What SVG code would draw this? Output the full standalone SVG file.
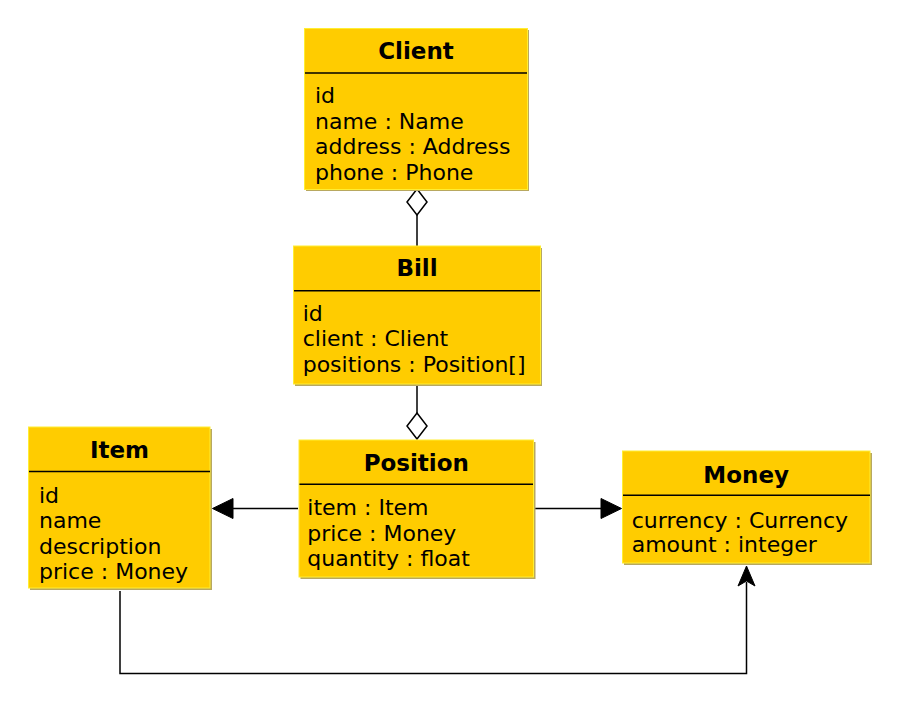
<svg xmlns="http://www.w3.org/2000/svg" width="900" height="702" viewBox="0 0 900 702">
<style>
.shadow{fill:#b8a860;}
.box{fill:#ffcc00;stroke:#ffee33;stroke-width:1;}
.div{stroke:#000;stroke-width:1.5;}
.title{font-family:"DejaVu Sans",sans-serif;font-weight:bold;font-size:23px;text-anchor:middle;fill:#000;}
.attr{font-family:"DejaVu Sans",sans-serif;font-size:22px;fill:#000;}
.conn{fill:none;stroke:#000;stroke-width:1.5;}
.dia{fill:#fff;stroke:#000;stroke-width:1.5;}
.head{fill:#000;stroke:#000;stroke-width:1;}
</style>
<rect width="900" height="702" fill="#fff"/>
<g id="connectors">
  <line class="conn" x1="417" y1="215" x2="417" y2="246"/>
  <polygon class="dia" points="417,189 427,202 417,215 407,202"/>
  <line class="conn" x1="417" y1="384" x2="417" y2="413"/>
  <polygon class="dia" points="417,413 427,426 417,439 407,426"/>
  <line class="conn" x1="233" y1="508.5" x2="298" y2="508.5"/>
  <polygon class="head" points="212.5,508.5 233,498.5 233,518.5"/>
  <line class="conn" x1="535" y1="508.5" x2="601" y2="508.5"/>
  <polygon class="head" points="621.5,508.5 601,498.5 601,518.5"/>
  <polyline class="conn" points="120,591 120,673.5 746.5,673.5 746.5,582"/>
  <polygon class="head" points="746.5,566 755,586 746.5,581 738,586"/>
</g>
<g id="Client">
  <rect class="shadow" x="306" y="30" width="223" height="161"/>
  <rect class="box" x="304.5" y="28.5" width="223" height="161"/>
  <line class="div" x1="305" y1="73" x2="527" y2="73"/>
  <text class="title" x="416" y="59">Client</text>
  <text class="attr" x="315" y="103.3">id</text>
  <text class="attr" x="315" y="128.6">name : Name</text>
  <text class="attr" x="315" y="154">address : Address</text>
  <text class="attr" x="315" y="179.6">phone : Phone</text>
</g>
<g id="Bill">
  <rect class="shadow" x="295" y="248" width="247" height="138"/>
  <rect class="box" x="293.5" y="246" width="247" height="138"/>
  <line class="div" x1="294" y1="290.7" x2="540" y2="290.7"/>
  <text class="title" x="417" y="276">Bill</text>
  <text class="attr" x="302.7" y="320.7">id</text>
  <text class="attr" x="302.7" y="346.2">client : Client</text>
  <text class="attr" x="302.7" y="371.7">positions : Position[]</text>
</g>
<g id="Item">
  <rect class="shadow" x="30" y="429" width="182" height="161"/>
  <rect class="box" x="28.5" y="427" width="181.5" height="161"/>
  <line class="div" x1="29" y1="471.5" x2="210" y2="471.5"/>
  <text class="title" x="119.5" y="458.3">Item</text>
  <text class="attr" x="39" y="502.7">id</text>
  <text class="attr" x="39" y="528">name</text>
  <text class="attr" x="39" y="553.5">description</text>
  <text class="attr" x="39" y="579">price : Money</text>
</g>
<g id="Position">
  <rect class="shadow" x="300.5" y="442" width="235" height="137"/>
  <rect class="box" x="299" y="440" width="234.5" height="137"/>
  <line class="div" x1="299.5" y1="484.3" x2="533" y2="484.3"/>
  <text class="title" x="416.3" y="470.7">Position</text>
  <text class="attr" x="307.3" y="515.3">item : Item</text>
  <text class="attr" x="307.3" y="540.8">price : Money</text>
  <text class="attr" x="307.3" y="566.2">quantity : float</text>
</g>
<g id="Money">
  <rect class="shadow" x="624" y="453" width="248" height="112"/>
  <rect class="box" x="622.5" y="451" width="247.5" height="112"/>
  <line class="div" x1="623" y1="495.3" x2="870" y2="495.3"/>
  <text class="title" x="746.2" y="483.3">Money</text>
  <text class="attr" x="631.7" y="527.5">currency : Currency</text>
  <text class="attr" x="631.7" y="552">amount : integer</text>
</g>
</svg>
